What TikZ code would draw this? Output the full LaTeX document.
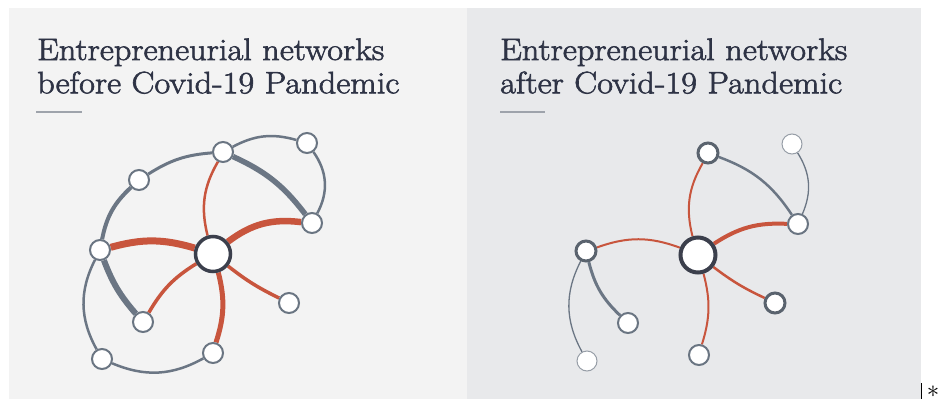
\documentclass[tikz,border=0pt]{standalone}
\usepackage{fontspec}
\newfontfamily\headfont{Latin Modern Roman}[FakeStretch=1.11, FakeBold=2]
\usetikzlibrary{calc}
\definecolor{panelA}{HTML}{F3F3F3}
\definecolor{panelB}{HTML}{E8E9EB}
\definecolor{titleink}{HTML}{2E3345}
\definecolor{rule}{HTML}{9EA3AB}
\definecolor{tie}{HTML}{C8553D}
\definecolor{link}{HTML}{6B7684}
\definecolor{ring}{HTML}{6A7582}
\definecolor{hub}{HTML}{3B3F4C}
\pgfdeclarelayer{panel}
\pgfdeclarelayer{edges}
\pgfsetlayers{panel,edges,main}
\tikzset{
  titletext/.style={anchor=base west, inner sep=0pt, text=titleink,
    font=\headfont\fontsize{31}{33}\selectfont},
  member/.style={circle, fill=white, draw=ring, line width=2pt,
    minimum size=20pt, inner sep=0pt},
  strong/.style={member, draw=ring!85!black, line width=3pt},
  faint/.style={member, draw=ring!70!white, line width=1pt},
  hubnode/.style={circle, fill=white, draw=hub, line width=3.5pt,
    minimum size=35pt, inner sep=0pt},
  redtie/.style={draw=tie, line width=#1},
  graytie/.style={draw=link, line width=#1},
  underline/.style={draw=rule, line width=1.8pt}
}
\begin{document}
\begin{tikzpicture}[x=1pt, y=-1pt]
\useasboundingbox (0,0) rectangle (940,399);

\begin{pgfonlayer}{panel}
  \fill[white] (0,0) rectangle (940,399);
  \fill[panelA] (9,8) rectangle (467,399);
  \fill[panelB] (467,8) rectangle (921,399);
\end{pgfonlayer}

% titles
\node[titletext] (t1a) at (37,60) {Entrepreneurial networks};
\node[titletext] (t1b) at (37,93.3) {before Covid-19 Pandemic};
\node[titletext] (t2a) at (500,60) {Entrepreneurial networks};
\node[titletext] (t2b) at (500,93.3) {after Covid-19 Pandemic};
\coordinate (u1s) at (36,112); \coordinate (u1e) at (82,112);
\coordinate (u2s) at (500,112); \coordinate (u2e) at (545,112);
\draw[underline] (u1s) -- (u1e);
\draw[underline] (u2s) -- (u2e);

% network before
\node[hubnode] (o) at (213,254) {};
\node[member] (a) at (223,152) {};
\node[member] (b) at (307,143) {};
\node[member] (c) at (312,223) {};
\node[member] (d) at (139,180) {};
\node[member] (e) at (100,250) {};
\node[member] (f) at (143,322) {};
\node[member] (g) at (289,303) {};
\node[member] (h) at (213,353) {};
\node[member] (i) at (102,359) {};

\begin{pgfonlayer}{edges}
  \draw[graytie=4pt] (e) to[bend left=18] (d);
  \draw[graytie=3pt] (d) to[bend left=14] (a);
  \draw[graytie=2.5pt] (a) to[bend left=22] (b);
  \draw[graytie=2.5pt] (b) to[bend left=32] (c);
  \draw[graytie=5.5pt] (a) to[bend left=14] (c);
  \draw[graytie=6pt] (e) to[bend right=10] (f);
  \draw[graytie=2.5pt] (e) to[bend right=28] (i);
  \draw[graytie=2.5pt] (i) to[bend right=26] (h);
  \draw[redtie=2.5pt] (o) to[bend left=22] (a);
  \draw[redtie=6.5pt] (o) to[bend left=22] (c);
  \draw[redtie=7pt] (o) to[bend right=16] (e);
  \draw[redtie=3.5pt] (o) to[bend right=14] (f);
  \draw[redtie=5pt] (o) to[bend left=16] (h);
  \draw[redtie=3.5pt] (o) to[bend right=6] (g);
\end{pgfonlayer}

% network after
\node[hubnode, line width=4pt] (p) at (698,255) {};
\node[strong] (pa) at (708,153) {};
\node[faint] (pb) at (792,144) {};
\node[member] (pc) at (798,224) {};
\node[strong] (pe) at (586,251) {};
\node[member] (pf) at (628,323) {};
\node[strong] (pg) at (775,303) {};
\node[member] (ph) at (699,355) {};
\node[faint] (pi) at (587,361) {};

\begin{pgfonlayer}{edges}
  \draw[redtie=2pt] (p) to[bend left=22] (pa);
  \draw[redtie=4pt] (p) to[bend left=18] (pc);
  \draw[redtie=2pt] (p) to[bend right=20] (pe);
  \draw[redtie=2.5pt] (p) to[bend right=6] (pg);
  \draw[redtie=2pt] (p) to[bend left=16] (ph);
  \draw[graytie=2.5pt] (pa) to[bend left=18] (pc);
  \draw[graytie=1.3pt] (pb) to[bend left=28] (pc);
  \draw[graytie=3pt] (pe) to[bend right=16] (pf);
  \draw[graytie=1.3pt] (pe) to[bend right=28] (pi);
\end{pgfonlayer}

% trailing marks at the lower right
\coordinate (bar1) at (921.3,383);
\coordinate (bar2) at (921.3,399);
\draw[black, line width=1.3pt] (bar1) -- (bar2);
\node[inner sep=0pt, font=\fontsize{26}{26}\selectfont] (ast) at (933,392) {$\ast$};
\end{tikzpicture}
\end{document}
